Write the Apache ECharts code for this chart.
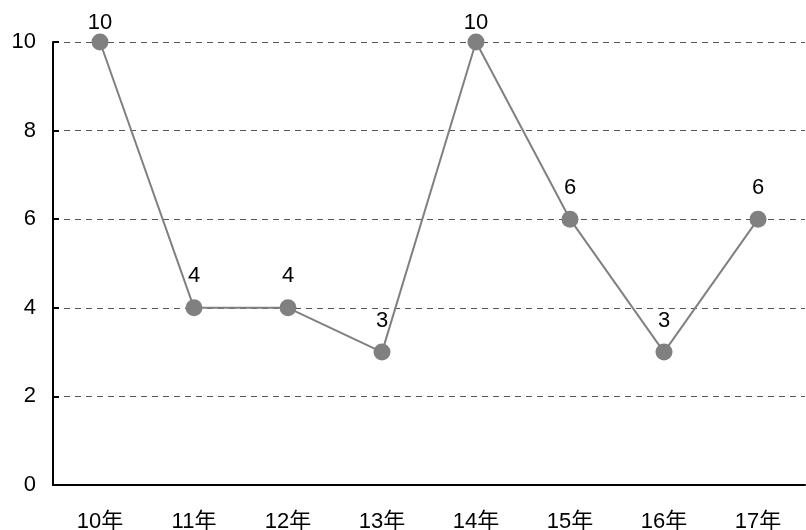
<!DOCTYPE html>
<html><head><meta charset="utf-8">
<script src="https://cdn.jsdelivr.net/npm/echarts@6/dist/echarts.min.js"></script>
<style>html,body{margin:0;padding:0;background:#fff}#c{width:806px;height:530px}</style>
</head><body><div id="c"></div>
<script>
const categories = ["10年","11年","12年","13年","14年","15年","16年","17年"];
const values = [10, 4, 4, 3, 10, 6, 3, 6];
const yTicks = [0, 2, 4, 6, 8, 10];

const yMax = yTicks[yTicks.length - 1];
const seriesData = values.map(v => v >= yMax ? {value: v, label: {distance: 0}} : v);

const chart = echarts.init(document.getElementById('c'), null, {renderer: 'canvas'});
const font = '"Liberation Sans", Arial, "Noto Sans CJK SC", sans-serif';
chart.setOption({
  animation: false,
  textStyle: {fontFamily: font},
  grid: {left: 53, right: 1, top: 42, bottom: 45, containLabel: false, outerBoundsMode: 'none'},
  xAxis: {
    type: 'category',
    data: categories,
    boundaryGap: true,
    axisLine: {lineStyle: {color: '#000', width: 2}},
    axisTick: {inside: true, length: 6, lineStyle: {color: '#000', width: 2}},
    axisLabel: {color: '#000', fontSize: 22, margin: 26, fontFamily: font},
    splitLine: {show: false}
  },
  yAxis: {
    type: 'value',
    min: yTicks[0], max: yMax, interval: 2,
    axisLine: {show: true, lineStyle: {color: '#000', width: 2}},
    axisTick: {show: true, inside: true, length: 6, lineStyle: {color: '#000', width: 2}},
    axisLabel: {color: '#000', fontSize: 22, margin: 17, fontFamily: font},
    splitLine: {show: true, lineStyle: {color: '#555', type: [6, 5], width: 1}}
  },
  series: [{
    type: 'line',
    data: seriesData,
    symbol: 'circle',
    symbolSize: 17,
    itemStyle: {color: '#808080'},
    lineStyle: {color: '#808080', width: 2},
    label: {show: true, position: 'top', distance: 12, color: '#000', fontSize: 22, fontFamily: font}
  }]
});
</script></body></html>
